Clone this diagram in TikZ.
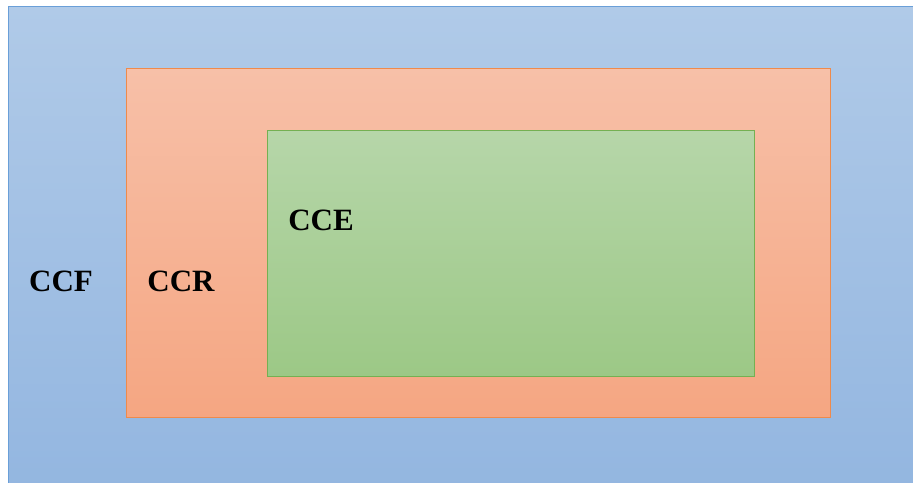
\documentclass[tikz,border=0pt]{standalone}
\usepackage{fontspec}
\setmainfont{Liberation Serif}

\definecolor{ccfline}{HTML}{6A9FD8}
\definecolor{ccftop}{HTML}{B0CAE8}
\definecolor{ccfbot}{HTML}{93B6E0}
\definecolor{ccrline}{HTML}{EE8A4C}
\definecolor{ccrtop}{HTML}{F7C0A8}
\definecolor{ccrbot}{HTML}{F5A682}
\definecolor{cceline}{HTML}{74B052}
\definecolor{ccetop}{HTML}{B6D6A9}
\definecolor{ccebot}{HTML}{9CC886}

\tikzset{
  region/.style={rectangle, inner sep=0pt, anchor=north west, line width=1.3pt},
  lbl/.style={font=\fontsize{31}{36}\selectfont\bfseries, inner sep=0pt}
}

\begin{document}
\begin{tikzpicture}[x=1pt,y=-1pt]
  \useasboundingbox (0,0) rectangle (913,482);
  \clip (0,0) rectangle (913,482);
  % nested boxes
  \node[region, draw=ccfline, top color=ccftop, bottom color=ccfbot,
        minimum width=915pt, minimum height=486pt] (ccf) at (8,6) {};
  \node[region, draw=ccrline, top color=ccrtop, bottom color=ccrbot,
        minimum width=704pt, minimum height=349pt] (ccr) at (126,68) {};
  \node[region, draw=cceline, top color=ccetop, bottom color=ccebot,
        minimum width=487pt, minimum height=246pt, line width=1pt] (cce) at (267,130) {};
  % labels
  \node[lbl] (ccflabel) at (61,281) {CCF};
  \node[lbl] (ccrlabel) at (181,281) {CCR};
  \node[lbl] (ccelabel) at (321,220) {CCE};
\end{tikzpicture}
\end{document}
